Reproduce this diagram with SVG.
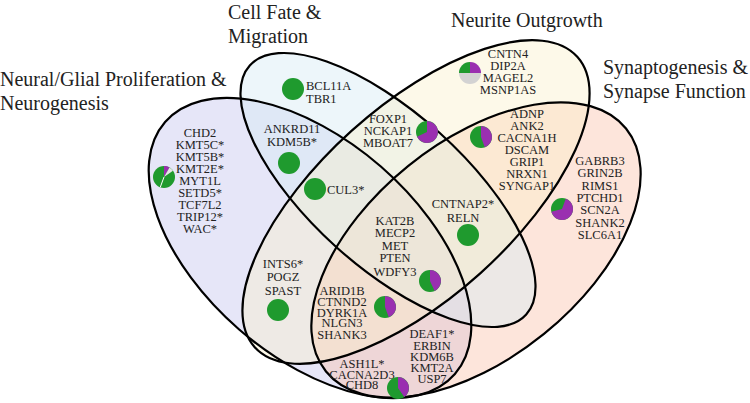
<svg xmlns="http://www.w3.org/2000/svg" width="750" height="403" viewBox="0 0 750 403">
<style>
.t{font-family:"Liberation Serif","Times New Roman",serif;font-size:20px;fill:#222}
.g{font-family:"Liberation Serif","Times New Roman",serif;font-size:12.5px;fill:#222;text-anchor:middle}
.gs{font-family:"Liberation Serif","Times New Roman",serif;font-size:12.5px;fill:#222}
.e{fill:none;stroke:#000;stroke-width:2.2}
.gr{fill:#1f9a2e}.pu{fill:#9a2fb0}.gy{fill:#d3d3d3}
</style>
<rect width="750" height="403" fill="#fff"/>
<g id="fills">
<ellipse cx="310" cy="248" rx="192" ry="108" transform="rotate(41 310 248)" fill="rgb(200,200,240)" fill-opacity="0.45"/>
<ellipse cx="476" cy="250" rx="193" ry="108" transform="rotate(-39 476 250)" fill="rgb(250,190,165)" fill-opacity="0.4"/>
<ellipse cx="388" cy="190" rx="186" ry="77" transform="rotate(42 388 190)" fill="rgb(215,235,245)" fill-opacity="0.45"/>
<ellipse cx="416" cy="202" rx="217" ry="96" transform="rotate(-42 416 202)" fill="rgb(250,240,200)" fill-opacity="0.4"/>
</g>
<g id="outlines">
<ellipse class="e" cx="310" cy="248" rx="192" ry="108" transform="rotate(41 310 248)"/>
<ellipse class="e" cx="476" cy="250" rx="193" ry="108" transform="rotate(-39 476 250)"/>
<ellipse class="e" cx="388" cy="190" rx="186" ry="77" transform="rotate(42 388 190)"/>
<ellipse class="e" cx="416" cy="202" rx="217" ry="96" transform="rotate(-42 416 202)"/>
</g>
<g id="titles">
<text class="t" x="0" y="86">Neural/Glial Proliferation &amp;</text>
<text class="t" x="0" y="110">Neurogenesis</text>
<text class="t" x="228" y="19">Cell Fate &amp;</text>
<text class="t" x="228" y="43">Migration</text>
<text class="t" x="451" y="27">Neurite Outgrowth</text>
<text class="t" x="603" y="74">Synaptogenesis &amp;</text>
<text class="t" x="603" y="98">Synapse Function</text>
</g>
<g id="n-neural">
<text class="g" x="200" y="137">CHD2</text><text class="g" x="200" y="149">KMT5C*</text><text class="g" x="200" y="161">KMT5B*</text><text class="g" x="200" y="173">KMT2E*</text><text class="g" x="200" y="185">MYT1L</text><text class="g" x="200" y="197">SETD5*</text><text class="g" x="200" y="209">TCF7L2</text><text class="g" x="200" y="221">TRIP12*</text><text class="g" x="200" y="233">WAC*</text>
<circle class="gr" cx="164" cy="177" r="11"/>
<path class="pu" d="M164,177 L164,166 A11 11 0 0 1 169.5,167.47 Z"/>
<path fill="#e6e6e6" d="M164,177 L169.5,167.47 A11 11 0 0 1 173.01,170.69 Z"/>
<line x1="164" y1="177" x2="160.24" y2="187.34" stroke="#fff" stroke-width="1"/>
</g>
<g id="n-cellfate">
<text class="gs" x="306" y="90">BCL11A</text><text class="gs" x="306" y="103">TBR1</text>
<circle class="gr" cx="293" cy="89" r="11"/>
</g>
<g id="n-neural-cellfate">
<text class="g" x="292" y="133">ANKRD11</text><text class="g" x="292" y="146">KDM5B*</text>
<circle class="gr" cx="289" cy="163" r="11"/>
</g>
<g id="n-cul3">
<text class="gs" x="327" y="194">CUL3*</text>
<circle class="gr" cx="315" cy="189" r="11"/>
</g>
<g id="n-cellfate-neurite">
<text class="g" x="388" y="123">FOXP1</text><text class="g" x="388" y="135">NCKAP1</text><text class="g" x="388" y="147">MBOAT7</text>
<circle class="gr" cx="427" cy="132" r="11"/>
<path class="pu" d="M427,132 L427,121 A11 11 0 1 1 417.03,136.65 Z"/>
</g>
<g id="n-neurite">
<text class="g" x="508" y="58">CNTN4</text><text class="g" x="508" y="70">DIP2A</text><text class="g" x="508" y="82">MAGEL2</text><text class="g" x="508" y="94">MSNP1AS</text>
<circle class="gy" cx="470" cy="73" r="11"/>
<path class="gr" d="M470,73 L459,73 A11 11 0 0 1 470,62 Z"/>
<path class="pu" d="M470,73 L470,62 A11 11 0 0 1 481,73 Z"/>
</g>
<g id="n-neurite-synapse">
<text class="g" x="527" y="118">ADNP</text><text class="g" x="527" y="130">ANK2</text><text class="g" x="527" y="142">CACNA1H</text><text class="g" x="527" y="154">DSCAM</text><text class="g" x="527" y="166">GRIP1</text><text class="g" x="527" y="178">NRXN1</text><text class="g" x="527" y="190">SYNGAP1</text>
<circle class="gr" cx="481" cy="137" r="11"/>
<path class="pu" d="M481,137 L481,126 A11 11 0 0 1 484.76,147.34 Z"/>
</g>
<g id="n-synapse">
<text class="g" x="600" y="165">GABRB3</text><text class="g" x="600" y="177">GRIN2B</text><text class="g" x="600" y="190">RIMS1</text><text class="g" x="600" y="202">PTCHD1</text><text class="g" x="600" y="214">SCN2A</text><text class="g" x="600" y="227">SHANK2</text><text class="g" x="600" y="239">SLC6A1</text>
<circle class="gr" cx="562" cy="209" r="11"/>
<path class="pu" d="M562,209 L565.76,198.66 A11 11 0 1 1 551.38,211.85 Z"/>
</g>
<g id="n-cntnap2">
<text class="g" x="463" y="208">CNTNAP2*</text><text class="g" x="463" y="222">RELN</text>
<circle class="gr" cx="468" cy="235" r="11"/>
</g>
<g id="n-all">
<text class="g" x="395" y="225">KAT2B</text><text class="g" x="395" y="237">MECP2</text><text class="g" x="395" y="250">MET</text><text class="g" x="395" y="262">PTEN</text><text class="g" x="395" y="276">WDFY3</text>
<circle class="gr" cx="430" cy="281" r="11"/>
<path class="pu" d="M430,281 L430,270 A11 11 0 0 1 434.65,290.97 Z"/>
</g>
<g id="n-ints6">
<text class="g" x="283" y="268">INTS6*</text><text class="g" x="283" y="281">POGZ</text><text class="g" x="283" y="295">SPAST</text>
<circle class="gr" cx="278" cy="310" r="11"/>
</g>
<g id="n-arid1b">
<text class="g" x="342" y="295">ARID1B</text><text class="g" x="342" y="306">CTNND2</text><text class="g" x="342" y="317">DYRK1A</text><text class="g" x="342" y="327">NLGN3</text><text class="g" x="342" y="339">SHANK3</text>
<circle class="gr" cx="385" cy="307" r="11"/>
<path class="pu" d="M385,307 L385,296 A11 11 0 0 1 388.76,317.34 Z"/>
</g>
<g id="n-deaf1">
<text class="g" x="432" y="338">DEAF1*</text><text class="g" x="432" y="350">ERBIN</text><text class="g" x="432" y="361">KDM6B</text><text class="g" x="432" y="372">KMT2A</text><text class="g" x="432" y="383">USP7</text>
</g>
<g id="n-ash1l">
<text class="g" x="362" y="368">ASH1L*</text><text class="g" x="362" y="379">CACNA2D3</text><text class="g" x="362" y="389">CHD8</text>
<circle class="gr" cx="398" cy="388" r="11"/>
<path class="pu" d="M398,388 L398,377 A11 11 0 0 1 404.31,397.01 Z"/>
</g>
</svg>
